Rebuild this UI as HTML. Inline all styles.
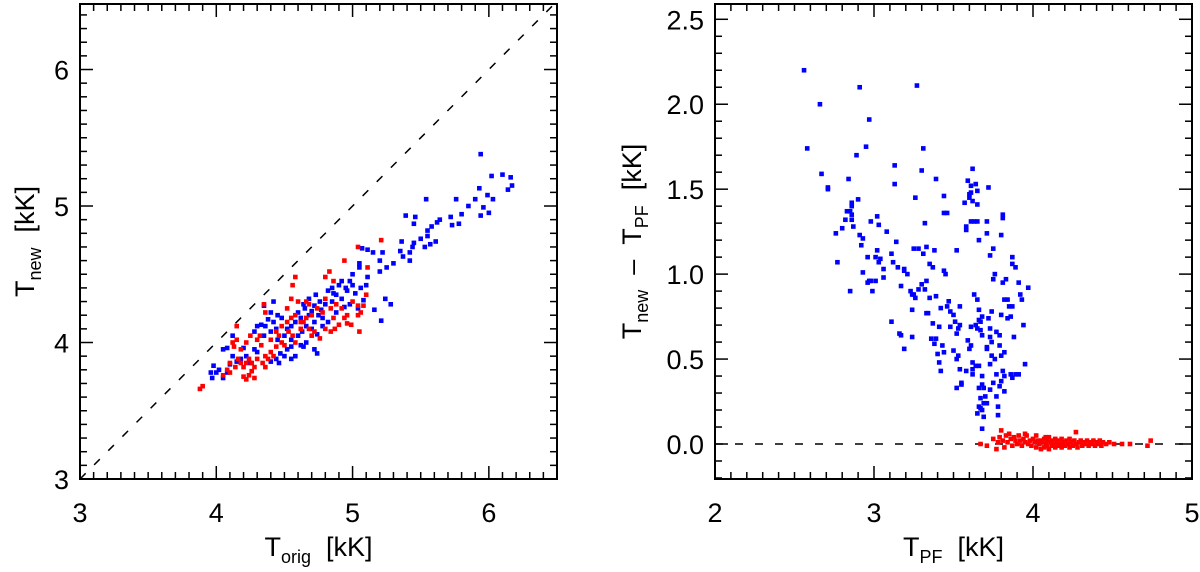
<!DOCTYPE html>
<html><head><meta charset="utf-8"><style>
html,body{margin:0;padding:0;background:#fff;}
svg{display:block;font-family:"Liberation Sans",sans-serif;}
</style></head><body>
<svg id="chart" width="1200" height="572" viewBox="0 0 1200 572">
<g id="left"></g>
<g id="right"></g>
</svg>
<script>
const leftBlue = [[5.94,5.38],[6.10,5.23],[6.16,5.21],[6.17,5.15],[6.14,5.12],[6.02,5.22],[6.03,5.05],[5.99,5.08],[5.96,4.99],[6.0,4.95],[5.93,5.13],[5.90,5.05],[5.85,5.0],[5.94,4.93],[5.80,4.94],[5.78,4.87],[5.73,4.86],[5.76,5.05],[5.72,4.92],[5.64,4.9],[5.62,4.88],[5.58,4.85],[5.55,4.82],[5.54,5.05],[5.45,4.87],[5.46,4.92],[5.39,4.93],[5.55,4.78],[5.5,4.76],[5.57,4.72],[5.61,4.74],[5.53,4.7],[5.44,4.7],[5.45,4.73],[5.42,4.66],[5.36,4.74],[5.42,4.6],[5.35,4.67],[5.37,4.63],[5.30,4.58],[5.25,4.55],[5.20,4.6],[5.20,4.52],[5.22,4.66],[5.15,4.66],[5.11,4.68],[5.07,4.69],[5.28,4.28],[5.24,4.32],[5.21,4.16],[5.16,4.24],[5.08,4.31],[5.10,4.42],[5.11,4.48],[5.05,4.58],[5.05,4.55],[5.0,4.5],[4.98,4.45],[4.95,4.4],[4.9,4.42],[4.85,4.4],[4.82,4.38],[4.88,4.35],[4.92,4.32],[4.96,4.38],[5.02,4.36],[5.04,4.25],[4.98,4.28],[4.94,4.26],[4.88,4.22],[4.85,4.3],[4.80,4.28],[4.76,4.3],[4.72,4.27],[4.70,4.23],[4.75,4.2],[4.78,4.18],[4.72,4.15],[4.68,4.2],[4.65,4.25],[4.62,4.18],[4.66,4.12],[4.70,4.1],[4.74,4.06],[4.78,4.12],[4.82,4.15],[4.60,4.22],[4.58,4.15],[4.55,4.12],[4.52,4.1],[4.50,4.05],[4.55,4.02],[4.60,4.05],[4.63,4.08],[4.66,4.0],[4.62,3.98],[4.55,3.97],[4.52,3.95],[4.48,4.18],[4.45,4.2],[4.42,4.15],[4.40,4.22],[4.38,4.17],[4.42,4.3],[4.35,4.27],[4.44,4.1],[4.40,4.08],[4.36,4.12],[4.33,4.13],[4.45,4.02],[4.47,3.92],[4.44,3.88],[4.40,3.86],[4.46,3.85],[4.50,3.9],[4.55,3.88],[4.58,3.9],[4.64,3.97],[4.74,3.92],[4.72,3.95],[4.30,3.93],[4.28,3.95],[4.25,3.85],[4.22,3.9],[4.18,3.88],[4.15,3.86],[4.12,3.9],[4.10,3.84],[4.08,3.96],[4.05,3.95],[4.12,4.05],[4.20,3.96],[4.08,3.78],[4.05,3.74],[4.02,3.8],[4.0,3.78],[3.98,3.83],[3.96,3.78],[3.97,3.74],[4.30,4.12],[4.35,4.05],[4.28,4.08],[4.68,4.32],[4.73,4.35],[4.64,4.28],[4.86,4.36],[4.92,4.45],[5.0,4.42],[5.06,4.4],[4.77,4.24]];
const leftRed = [[3.88,3.66],[3.90,3.68],[4.58,4.48],[4.56,4.42],[4.94,4.6],[5.04,4.7],[5.21,4.75],[5.11,4.55],[4.83,4.52],[4.80,4.48],[4.86,4.45],[4.66,4.3],[4.60,4.3],[4.55,4.32],[4.35,4.28],[4.36,4.22],[4.52,4.25],[4.62,4.15],[4.58,4.2],[4.55,4.18],[4.52,4.15],[4.66,4.18],[4.70,4.2],[4.74,4.25],[4.78,4.22],[4.80,4.32],[4.84,4.25],[4.88,4.28],[4.92,4.25],[4.96,4.2],[5.0,4.3],[5.04,4.27],[5.10,4.35],[5.08,4.27],[5.04,4.2],[4.99,4.13],[4.96,4.14],[5.05,4.08],[4.90,4.13],[4.87,4.1],[4.84,4.08],[4.80,4.1],[4.76,4.03],[4.72,4.08],[4.68,4.1],[4.62,4.1],[4.56,4.05],[4.53,4.08],[4.48,4.12],[4.44,4.08],[4.40,4.02],[4.48,4.0],[4.50,3.98],[4.44,3.97],[4.40,3.93],[4.36,3.9],[4.34,3.85],[4.38,3.88],[4.30,3.88],[4.28,3.82],[4.26,3.85],[4.24,3.88],[4.22,3.85],[4.20,3.82],[4.18,3.85],[4.16,3.88],[4.14,3.82],[4.10,3.85],[4.13,3.97],[4.15,4.02],[4.12,4.0],[4.15,4.12],[4.18,3.95],[4.22,4.0],[4.25,4.05],[4.30,4.02],[4.33,3.98],[4.32,4.05],[4.26,3.79],[4.24,3.76],[4.22,3.73],[4.28,3.74],[4.20,3.75],[4.08,3.8],[4.05,3.76],[4.10,3.78],[4.36,3.82],[4.42,3.9],[4.46,4.05],[4.58,4.0],[4.7,4.05],[4.86,4.18],[4.94,4.18],[5.06,4.22],[4.64,4.15],[4.68,4.28]];
const rightBlue = [[2.56,2.20],[2.58,1.74],[2.66,2.00],[2.67,1.59],[2.71,1.51],[2.71,1.5],[2.76,1.24],[2.77,1.07],[2.80,1.27],[2.82,1.32],[2.83,1.37],[2.85,1.37],[2.84,1.56],[2.86,1.42],[2.86,1.40],[2.86,1.35],[2.86,1.32],[2.87,1.28],[2.85,0.90],[2.89,1.7],[2.91,2.10],[2.90,1.44],[2.91,1.23],[2.92,1.17],[2.93,1.21],[2.93,1.01],[2.95,1.75],[2.97,1.91],[2.96,1.10],[2.98,1.31],[2.96,0.95],[2.97,0.96],[2.99,0.90],[2.98,0.96],[3.01,1.10],[3.02,1.34],[3.03,1.29],[3.02,1.14],[3.03,1.07],[3.04,1.09],[3.01,0.96],[3.06,1.03],[3.06,0.98],[3.08,1.25],[3.11,1.12],[3.13,1.64],[3.13,1.53],[3.14,1.19],[3.15,1.04],[3.12,1.07],[3.17,0.93],[3.19,1.03],[3.19,1.02],[3.21,1.0],[3.11,0.72],[3.16,0.65],[3.17,0.64],[3.19,0.56],[3.24,0.79],[3.24,0.63],[3.23,0.90],[3.24,0.88],[3.25,0.88],[3.26,0.86],[3.25,1.15],[3.28,1.15],[3.27,2.11],[3.26,1.45],[3.31,1.74],[3.30,1.61],[3.31,1.12],[3.32,1.30],[3.33,1.16],[3.28,0.91],[3.30,0.94],[3.32,0.91],[3.33,0.96],[3.35,0.86],[3.35,1.06],[3.37,1.04],[3.34,0.77],[3.37,0.71],[3.38,1.14],[3.39,1.56],[3.33,0.77],[3.36,0.62],[3.38,0.59],[3.39,0.62],[3.41,0.69],[3.39,0.87],[3.42,0.80],[3.44,1.46],[3.44,1.36],[3.46,1.36],[3.45,1.0],[3.44,1.02],[3.40,0.53],[3.44,0.54],[3.43,0.58],[3.46,0.81],[3.47,0.84],[3.48,0.69],[3.48,0.78],[3.50,0.76],[3.51,0.72],[3.52,1.14],[3.53,0.68],[3.52,0.65],[3.54,0.81],[3.54,0.70],[3.50,0.55],[3.53,0.52],[3.52,0.5],[3.54,0.44],[3.42,0.43],[3.41,0.48],[3.52,0.33],[3.55,0.35],[3.55,0.36],[3.57,1.42],[3.58,1.28],[3.58,1.26],[3.59,1.55],[3.60,1.47],[3.60,1.45],[3.61,1.48],[3.61,1.31],[3.61,1.52],[3.62,1.62],[3.62,1.43],[3.64,1.53],[3.65,1.49],[3.63,1.31],[3.65,1.31],[3.65,1.41],[3.66,1.2],[3.66,0.79],[3.66,0.73],[3.65,0.68],[3.64,0.7],[3.67,0.67],[3.67,0.72],[3.68,0.75],[3.68,0.64],[3.63,0.88],[3.65,0.85],[3.61,0.69],[3.61,0.58],[3.62,0.48],[3.62,0.44],[3.62,0.41],[3.60,0.56],[3.58,0.43],[3.59,0.61],[3.64,0.46],[3.66,0.46],[3.68,0.4],[3.66,0.33],[3.67,0.27],[3.66,0.22],[3.65,0.18],[3.67,0.21],[3.68,0.2],[3.69,0.24],[3.70,0.28],[3.68,0.35],[3.69,0.33],[3.69,0.16],[3.68,0.09],[3.71,0.24],[3.72,1.51],[3.71,1.31],[3.71,1.24],[3.73,1.11],[3.75,1.15],[3.75,0.97],[3.76,1.0],[3.74,0.78],[3.72,0.74],[3.73,0.68],[3.73,0.63],[3.74,0.6],[3.71,0.56],[3.71,0.57],[3.74,0.52],[3.76,0.5],[3.73,0.47],[3.77,0.41],[3.75,0.36],[3.73,0.32],[3.77,0.28],[3.78,0.22],[3.78,0.17],[3.77,0.66],[3.79,0.64],[3.79,0.58],[3.80,0.52],[3.81,1.35],[3.81,1.33],[3.80,1.23],[3.80,0.76],[3.81,0.95],[3.83,0.97],[3.82,0.54],[3.81,0.43],[3.80,0.37],[3.79,0.34],[3.82,0.31],[3.82,0.4],[3.82,0.85],[3.84,0.85],[3.84,0.74],[3.85,0.81],[3.87,0.81],[3.87,1.06],[3.87,1.10],[3.89,1.04],[3.86,0.75],[3.88,0.63],[3.87,0.39],[3.86,0.41],[3.89,0.41],[3.91,0.41],[3.91,0.95],[3.92,0.88],[3.93,0.85],[3.94,0.7],[3.95,0.47],[3.97,0.92]];
const rightRed = [[3.67,0.0],[3.71,-0.01],[3.75,0.03],[3.77,-0.03],[3.78,0.01],[3.79,0.04],[3.80,0.08],[3.81,0.02],[3.82,-0.02],[3.83,0.05],[3.84,0.01],[3.85,0.06],[3.86,0.03],[3.87,-0.01],[3.88,0.04],[3.89,0.02],[3.90,0.0],[3.91,0.05],[3.92,0.02],[3.93,-0.01],[3.94,0.03],[3.95,0.01],[3.96,0.05],[3.97,0.0],[3.98,0.02],[3.99,-0.01],[4.00,0.03],[4.01,0.01],[4.02,-0.02],[4.03,0.02],[4.04,0.0],[4.05,-0.03],[4.05,0.02],[4.06,0.01],[4.07,-0.02],[4.07,0.03],[4.08,0.0],[4.09,-0.01],[4.09,0.02],[4.10,0.04],[4.10,-0.03],[4.11,0.01],[4.12,-0.01],[4.12,0.02],[4.13,0.0],[4.14,0.03],[4.14,-0.02],[4.15,0.01],[4.16,-0.01],[4.16,0.02],[4.17,0.0],[4.18,0.03],[4.18,-0.02],[4.19,0.01],[4.20,-0.01],[4.21,0.02],[4.22,0.0],[4.23,0.03],[4.23,-0.02],[4.24,0.01],[4.25,-0.01],[4.26,0.02],[4.27,0.07],[4.27,0.0],[4.28,-0.02],[4.29,0.01],[4.30,0.02],[4.31,-0.01],[4.32,0.01],[4.33,0.0],[4.34,0.02],[4.35,-0.01],[4.36,0.01],[4.37,0.0],[4.38,0.02],[4.39,-0.01],[4.40,0.01],[4.41,0.0],[4.42,0.02],[4.43,-0.01],[4.44,0.01],[4.46,0.0],[4.48,0.01],[4.51,0.0],[4.56,0.0],[4.61,0.0],[4.72,-0.01],[4.74,0.02],[3.95,0.06],[4.02,0.05],[4.08,0.04]];
const leftXTicks = [3,4,5,6];
const leftYTicks = [3,4,5,6];
const rightXTicks = [2,3,4,5];
const rightYTicks = ["0.0","0.5","1.0","1.5","2.0","2.5"];

const NS = "http://www.w3.org/2000/svg";
function mk(tag, attrs, parent){const e=document.createElementNS(NS,tag);for(const k in attrs)e.setAttribute(k,attrs[k]);parent.appendChild(e);return e;}

function panel(g, P, blue, red, xt, yt, minor, xLabel, yLabel, dashFn){
  const sx=v=>P.x0+(v-P.xmin)/(P.xmax-P.xmin)*(P.x1-P.x0);
  const sy=v=>P.y1-(v-P.ymin)/(P.ymax-P.ymin)*(P.y1-P.y0);
  const clipId=g.id+"-clip";
  const cp=mk("clipPath",{id:clipId},g);
  mk("rect",{x:P.x0,y:P.y0,width:P.x1-P.x0,height:P.y1-P.y0},cp);
  const d=dashFn(P);
  const dl=mk("line",{x1:sx(d[0]),y1:sy(d[1]),x2:sx(d[2]),y2:sy(d[3]),stroke:"#000","stroke-width":1.5,"stroke-dasharray":"8,12","clip-path":"url(#"+clipId+")"},g);
  
  
  const sb=mk("g",{"clip-path":"url(#"+clipId+")"},g);
  
  
  blue.forEach(p=>{const r=mk("rect",{x:sx(p[0])-2.3,y:sy(p[1])-2.3,width:4.6,height:4.6,fill:"#0000ff"},sb);
    
    });
  const sr=mk("g",{"clip-path":"url(#"+clipId+")"},g);
  
  
  red.forEach(p=>{const r=mk("rect",{x:sx(p[0])-2.3,y:sy(p[1])-2.3,width:4.6,height:4.6,fill:"#ff0000"},sr);
    
    });
  const fr=mk("rect",{x:P.x0,y:P.y0,width:P.x1-P.x0,height:P.y1-P.y0,fill:"none",stroke:"#000","stroke-width":2},g);
  
  
  const tk=mk("g",{stroke:"#000","stroke-width":1.5},g);
  
  
  const eps=1e-6;
  for(let v=Math.ceil(P.xmin/minor.x-eps)*minor.x; v<=P.xmax+eps; v+=minor.x){
    const isMaj=Math.abs(v-Math.round(v/minor.xm)*minor.xm)<eps; const L=isMaj?13:7; const X=sx(v);
    mk("line",{x1:X,y1:P.y1,x2:X,y2:P.y1-L},tk); mk("line",{x1:X,y1:P.y0,x2:X,y2:P.y0+L},tk);
  }
  for(let v=Math.ceil(P.ymin/minor.y-eps)*minor.y; v<=P.ymax+eps; v+=minor.y){
    const isMaj=Math.abs(v-Math.round(v/minor.ym)*minor.ym)<eps; const L=isMaj?13:7; const Y=sy(v);
    mk("line",{x1:P.x0,y1:Y,x2:P.x0+L,y2:Y},tk); mk("line",{x1:P.x1,y1:Y,x2:P.x1-L,y2:Y},tk);
  }
  xt.forEach(v=>{const t=mk("text",{x:sx(+v),y:P.y1+43,"text-anchor":"middle","font-size":27,fill:"#000"},g);t.textContent=v;
    
    });
  yt.forEach(v=>{const t=mk("text",{x:P.x0-11,y:sy(+v)+10,"text-anchor":"end","font-size":27,fill:"#000"},g);t.textContent=v;
    
    });
  const xl=mk("text",{x:(P.x0+P.x1)/2,y:P.y1+77,"text-anchor":"middle","font-size":27,fill:"#000"},g);
  xl.innerHTML=xLabel;
  
  
  const yl=mk("text",{x:0,y:0,"text-anchor":"middle","font-size":27,fill:"#000",transform:"translate("+P.ylx+","+((P.y0+P.y1)/2)+") rotate(-90)"},g);
  yl.innerHTML=yLabel;
  
  
}
const sub=s=>'<tspan dy="7" font-size="18">'+s+'</tspan><tspan dy="-7">  </tspan>';
panel(document.getElementById("left"),{x0:80,x1:557,y0:4,y1:479,xmin:3,xmax:6.5,ymin:3.0,ymax:6.48,ylx:34},
  leftBlue,leftRed,leftXTicks,leftYTicks,{x:0.1,xm:1,y:0.1,ym:1},
  'T'+sub('orig')+'\u00a0[kK]','T'+sub('new')+'\u00a0[kK]',P=>[3,3,6.5,6.5]);
panel(document.getElementById("right"),{x0:715,x1:1192,y0:4,y1:479,xmin:2,xmax:5,ymin:-0.206,ymax:2.59,ylx:641},
  rightBlue,rightRed,rightXTicks,rightYTicks,{x:0.1,xm:1,y:0.1,ym:0.5},
  'T'+sub('PF')+'\u00a0[kK]','T'+sub('new')+'\u00a0\u2013\u00a0\u00a0T'+sub('PF')+'\u00a0[kK]',P=>[2,0,5,0]);
</script>
</body></html>
